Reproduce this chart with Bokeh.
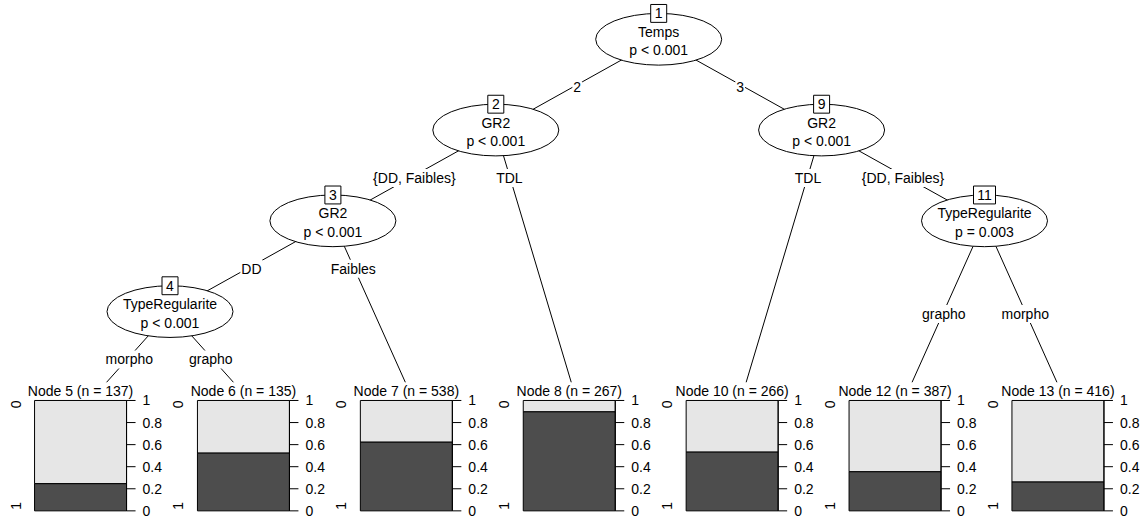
import numpy as np
from bokeh.plotting import figure
from bokeh.models import Range1d
from bokeh.core.properties import value
from bokeh.embed import file_html
from bokeh.resources import INLINE

# ---------------- data ----------------
inner_ids = [1, 2, 3, 4, 9, 11]
inner_vars = ["Temps", "GR2", "GR2", "TypeRegularite", "GR2", "TypeRegularite"]
inner_pvals = ["p < 0.001", "p < 0.001", "p < 0.001", "p < 0.001", "p < 0.001", "p = 0.003"]

terminal_ids = [5, 6, 7, 8, 10, 12, 13]
terminal_n = [137, 135, 538, 267, 266, 387, 416]
share_class1 = [0.246, 0.523, 0.622, 0.897, 0.532, 0.354, 0.261]  # dark part

edge_parent = [1, 1, 2, 2, 3, 3, 4, 4, 9, 9, 11, 11]
edge_child = [2, 9, 3, 8, 4, 7, 5, 6, 10, 11, 12, 13]
edge_labels = ["2", "3", "{DD, Faibles}", "TDL", "DD", "Faibles", "morpho", "grapho",
               "TDL", "{DD, Faibles}", "grapho", "morpho"]

class_labels = ["0", "1"]
axis_ticks = [0, 0.2, 0.4, 0.6, 0.8, 1]
axis_tick_labels = ["0", "0.2", "0.4", "0.6", "0.8", "1"]

# ---------------- layout (partykit style) ----------------
kids = {}
for pa, ch in zip(edge_parent, edge_child):
    kids.setdefault(pa, []).append(ch)


def width(n):
    return 1 if n not in kids else sum(width(k) for k in kids[n])


def pos_frac(n):
    if n not in kids:
        return 0.5
    w = [width(k) for k in kids[n]]
    nk = len(w)
    if nk % 2 == 0:
        r = sum(w[: nk // 2])
    else:
        cs = np.cumsum(w)
        r = np.mean(cs[nk // 2 - 1: nk // 2 + 1]) if nk > 1 else w[0] / 2
    return r / sum(w)


XN = {}
DEP = {}


def layout(n, xlo, xhi, depth):
    if n not in kids:
        XN[n] = (xlo + xhi) / 2
        return
    XN[n] = xlo + pos_frac(n) * (xhi - xlo)
    DEP[n] = depth
    w = [width(k) for k in kids[n]]
    bounds = xlo + np.cumsum([0] + w) / sum(w) * (xhi - xlo)
    for k, a, b in zip(kids[n], bounds[:-1], bounds[1:]):
        layout(k, a, b, depth + 1)


layout(1, 0, width(1), 1)

X0, XS = 6.6, 162.9
LEV0, LEVS = 39.0, 91.3


def px(x):
    return X0 + XS * x


def lev(d):
    return LEV0 + LEVS * (d - 1)


max_depth = max(DEP.values())
TERM_Y = lev(max_depth + 1)
EW, EH = 126, 52
COVER_TOP = 384
PAN_TOP, PAN_BOT = 402.3, 513.3
PAN_L, PAN_R = -54, 38
FONT = value("Liberation Sans")
FS = "14px"

p = figure(width=1142, height=518, x_range=Range1d(0, 1142), y_range=Range1d(521, 0),
           output_backend="svg", toolbar_location=None, min_border=0,
           x_axis_type=None, y_axis_type=None)
p.outline_line_color = None
p.background_fill_color = "white"


def node_xy(n):
    if n in kids:
        return px(XN[n]), lev(DEP[n])
    return px(XN[n]), TERM_Y


# edges
ex0, ey0, ex1, ey1 = [], [], [], []
lx, ly = [], []
for pa, ch, lab in zip(edge_parent, edge_child, edge_labels):
    x0, y0 = node_xy(pa)
    x1, y1 = node_xy(ch)
    ex0.append(x0); ey0.append(y0); ex1.append(x1); ey1.append(y1)
    y1max = min(node_xy(k)[1] for k in kids[pa])
    ypos = (y0 + y1max) / 2
    xpos = x0 + (x1 - x0) * (ypos - y0) / (y1 - y0)
    lx.append(xpos); ly.append(ypos + 2.5)
p.segment(x0=ex0, y0=ey0, x1=ex1, y1=ey1, line_color="black", line_width=1)

# terminal covers
tcs = [px(XN[t]) for t in terminal_ids]
p.quad(left=[c - XS / 2 for c in tcs], right=[c + XS / 2 for c in tcs],
       top=[COVER_TOP] * len(tcs), bottom=[521] * len(tcs),
       fill_color="white", line_color=None)

p.text(x=lx, y=ly, text=edge_labels, text_font=FONT, text_font_size=FS,
       text_align="center", text_baseline="middle", text_color="black",
       background_fill_color="white", padding=1)

# inner nodes
ix = [px(XN[n]) for n in inner_ids]
iy = [lev(DEP[n]) for n in inner_ids]
p.ellipse(x=ix, y=iy, width=EW, height=EH, fill_color="white", line_color="black", line_width=1)
p.text(x=ix, y=[y - 7.5 for y in iy], text=inner_vars, text_font=FONT, text_font_size=FS,
       text_align="center", text_baseline="middle", text_color="black")
p.text(x=ix, y=[y + 11 for y in iy], text=inner_pvals, text_font=FONT, text_font_size=FS,
       text_align="center", text_baseline="middle", text_color="black")
bw = [16 if n < 10 else 22 for n in inner_ids]
p.rect(x=ix, y=[y - 26 for y in iy], width=bw, height=18, fill_color="white",
       line_color="black", line_width=1)
p.text(x=ix, y=[y - 26 for y in iy], text=[str(n) for n in inner_ids], text_font=FONT,
       text_font_size=FS, text_align="center", text_baseline="middle", text_color="black")

# terminal panels
H = PAN_BOT - PAN_TOP
left = [c + PAN_L for c in tcs]
right = [c + PAN_R for c in tcs]
mid = [c + (PAN_L + PAN_R) / 2 for c in tcs]
dark_top = [PAN_BOT - s * H for s in share_class1]
p.quad(left=left, right=right, top=[PAN_TOP] * 7, bottom=dark_top,
       fill_color="#E6E6E6", line_color="black", line_width=1)
p.quad(left=left, right=right, top=dark_top, bottom=[PAN_BOT] * 7,
       fill_color="#4D4D4D", line_color="black", line_width=1)

p.text(x=mid, y=[393] * 7,
       text=[f"Node {t} (n = {n})" for t, n in zip(terminal_ids, terminal_n)],
       text_font=FONT, text_font_size=FS, text_align="center", text_baseline="middle",
       text_color="black")

# right axes
axx, axy0, axy1 = [], [], []
tx0, ty, tx1 = [], [], []
tlx, tly, tlt = [], [], []
for r in right:
    axx.append(r); axy0.append(PAN_TOP); axy1.append(PAN_BOT)
    for v, t in zip(axis_ticks, axis_tick_labels):
        yy = PAN_BOT - v * H
        tx0.append(r); tx1.append(r + 9); ty.append(yy)
        tlx.append(r + 16); tly.append(yy); tlt.append(t)
p.segment(x0=axx, y0=axy0, x1=axx, y1=axy1, line_color="black", line_width=1)
p.segment(x0=tx0, y0=ty, x1=tx1, y1=ty, line_color="black", line_width=1)
p.text(x=tlx, y=tly, text=tlt, text_font=FONT, text_font_size=FS, text_align="left",
       text_baseline="middle", text_color="black")

# left class labels (rotated)
clx, cly, clt = [], [], []
for l in left:
    clx += [l - 19, l - 19]
    cly += [PAN_TOP + 0.035 * H, PAN_BOT - 0.045 * H]
    clt += class_labels
p.text(x=clx, y=cly, text=clt, angle=np.pi / 2, text_font=FONT, text_font_size=FS,
       text_align="center", text_baseline="middle", text_color="black")

open("out.html", "w").write(file_html(p, INLINE))
